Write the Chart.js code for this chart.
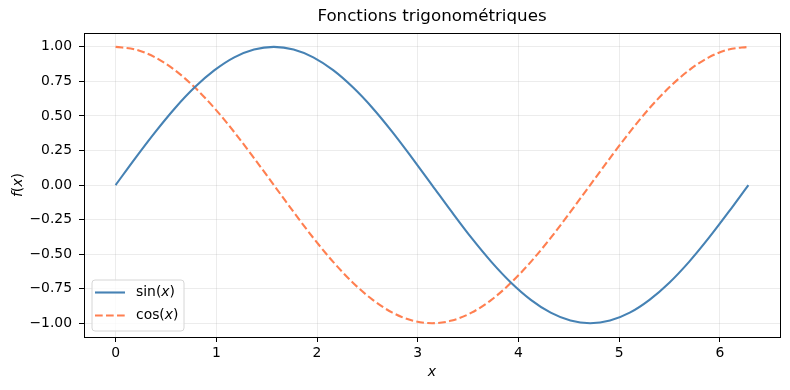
<!DOCTYPE html>
<html lang="fr">
<head>
  <meta charset="UTF-8">
  <title>Fonctions trigonométriques</title>
  <style>
    body { margin: 0; background: #fff; }
    #wrap { width: 790px; height: 390px; }
  </style>
  <script src="https://cdn.jsdelivr.net/npm/chart.js"></script>
</head>
<body>
  <div id="wrap"><canvas id="trig"></canvas></div>
  <script>
    // x positions (0 .. 2π)
    const xVals = [0, 0.196, 0.393, 0.589, 0.785, 0.982, 1.178, 1.374, 1.571, 1.767, 1.963,
      2.160, 2.356, 2.553, 2.749, 2.945, 3.142, 3.338, 3.534, 3.731, 3.927, 4.123, 4.320,
      4.516, 4.712, 4.909, 5.105, 5.301, 5.498, 5.694, 5.890, 6.087, 6.283];
    const sinVals = [0, 0.195, 0.383, 0.556, 0.707, 0.831, 0.924, 0.981, 1.0, 0.981, 0.924,
      0.831, 0.707, 0.556, 0.383, 0.195, 0, -0.195, -0.383, -0.556, -0.707, -0.831, -0.924,
      -0.981, -1.0, -0.981, -0.924, -0.831, -0.707, -0.556, -0.383, -0.195, 0];
    const cosVals = [1.0, 0.981, 0.924, 0.831, 0.707, 0.556, 0.383, 0.195, 0, -0.195, -0.383,
      -0.556, -0.707, -0.831, -0.924, -0.981, -1.0, -0.981, -0.924, -0.831, -0.707, -0.556, -0.383,
      -0.195, 0, 0.195, 0.383, 0.556, 0.707, 0.831, 0.924, 0.981, 1.0];
    const xTicks = [0, 1, 2, 3, 4, 5, 6];
    const yTicks = [-1.0, -0.75, -0.5, -0.25, 0, 0.25, 0.5, 0.75, 1.0];

    const FONT = "'DejaVu Sans', sans-serif";
    const SIN_COLOR = '#4682B4';
    const COS_COLOR = '#FF7F50';
    const DASH = [7.7, 3.3];

    // draws pieces of text, some upright and some italic, left to right
    function drawMixed(ctx, parts, x, y, size) {
      let cx = x;
      parts.forEach(p => {
        ctx.font = (p[1] ? 'italic ' : '') + size + 'px ' + FONT;
        ctx.fillText(p[0], cx, y);
        cx += ctx.measureText(p[0]).width;
      });
      return cx;
    }
    function mixedWidth(ctx, parts, size) {
      let w = 0;
      parts.forEach(p => {
        ctx.font = (p[1] ? 'italic ' : '') + size + 'px ' + FONT;
        w += ctx.measureText(p[0]).width;
      });
      return w;
    }

    // frame, axis titles and legend, drawn like matplotlib does
    const extras = {
      id: 'extras',
      afterDatasetsDraw(chart) {
        const ctx = chart.ctx;
        const a = chart.chartArea;
        ctx.save();
        ctx.strokeStyle = '#000';
        ctx.lineWidth = 1;
        ctx.strokeRect(Math.round(a.left) + 0.5, Math.round(a.top) + 0.5,
          Math.round(a.right - a.left), Math.round(a.bottom - a.top));

        ctx.fillStyle = '#000';
        ctx.textBaseline = 'middle';
        // x axis title
        const xt = [['x', true]];
        drawMixed(ctx, xt, (a.left + a.right) / 2 - mixedWidth(ctx, xt, 14) / 2, 372, 14);
        // y axis title
        const yt = [['f', true], ['(', false], ['x', true], [')', false]];
        ctx.save();
        ctx.translate(18, (a.top + a.bottom) / 2);
        ctx.rotate(-Math.PI / 2);
        drawMixed(ctx, yt, -mixedWidth(ctx, yt, 14) / 2, 0, 14);
        ctx.restore();

        // legend box, lower left
        const bx = 92, by = 280, bw = 92, bh = 51, r = 3;
        ctx.beginPath();
        ctx.moveTo(bx + r, by);
        ctx.arcTo(bx + bw, by, bx + bw, by + bh, r);
        ctx.arcTo(bx + bw, by + bh, bx, by + bh, r);
        ctx.arcTo(bx, by + bh, bx, by, r);
        ctx.arcTo(bx, by, bx + bw, by, r);
        ctx.closePath();
        ctx.fillStyle = 'rgba(255,255,255,0.8)';
        ctx.fill();
        ctx.strokeStyle = '#d6d6d6';
        ctx.lineWidth = 1;
        ctx.stroke();

        const rows = [
          { color: SIN_COLOR, dash: [], y: 292.5, parts: [['sin(', false], ['x', true], [')', false]] },
          { color: COS_COLOR, dash: DASH, y: 315.5, parts: [['cos(', false], ['x', true], [')', false]] }
        ];
        rows.forEach(row => {
          ctx.beginPath();
          ctx.setLineDash(row.dash);
          ctx.strokeStyle = row.color;
          ctx.lineWidth = 2.1;
          ctx.moveTo(95, row.y);
          ctx.lineTo(125, row.y);
          ctx.stroke();
          ctx.setLineDash([]);
          ctx.fillStyle = '#000';
          drawMixed(ctx, row.parts, 136, row.y, 13.9);
        });
        ctx.restore();
      }
    };

    new Chart(document.getElementById('trig'), {
      type: 'line',
      data: {
        datasets: [
          {
            label: 'sin(x)',
            data: xVals.map((x, i) => ({ x: x, y: sinVals[i] })),
            borderColor: SIN_COLOR,
            borderWidth: 2.1,
            pointRadius: 0,
            cubicInterpolationMode: 'monotone',
            fill: false
          },
          {
            label: 'cos(x)',
            data: xVals.map((x, i) => ({ x: x, y: cosVals[i] })),
            borderColor: COS_COLOR,
            borderWidth: 2.1,
            borderDash: DASH,
            pointRadius: 0,
            cubicInterpolationMode: 'monotone',
            fill: false
          }
        ]
      },
      options: {
        responsive: true,
        maintainAspectRatio: false,
        animation: false,
        layout: { padding: { top: 0, right: 10, bottom: 0, left: 0 } },
        plugins: {
          legend: { display: false },
          tooltip: { enabled: false },
          title: {
            display: true,
            fullSize: false,
            text: 'Fonctions trigonométriques',
            color: '#000',
            font: { family: FONT, size: 16.7, weight: 'normal' },
            padding: { top: 7, bottom: 6 }
          }
        },
        scales: {
          x: {
            type: 'linear',
            min: -0.314,
            max: 6.597,
            afterBuildTicks: s => { s.ticks = xTicks.map(v => ({ value: v })); },
            afterFit: s => { s.height = 53; },
            grid: { color: 'rgba(176,176,176,0.3)', lineWidth: 0.8, tickColor: '#000', tickLength: 5, tickWidth: 1 },
            border: { display: false },
            ticks: { color: '#000', font: { family: FONT, size: 13.9 }, padding: 3, maxRotation: 0 }
          },
          y: {
            min: -1.1,
            max: 1.1,
            afterBuildTicks: s => { s.ticks = yTicks.map(v => ({ value: v })); },
            afterFit: s => { s.width = 84; },
            grid: { color: 'rgba(176,176,176,0.3)', lineWidth: 0.8, tickColor: '#000', tickLength: 5, tickWidth: 1 },
            border: { display: false },
            ticks: {
              color: '#000',
              font: { family: FONT, size: 13.9 },
              padding: 7,
              callback: v => v.toFixed(2).replace('-', '\u2212')
            }
          }
        }
      },
      plugins: [extras]
    });
  </script>
</body>
</html>
